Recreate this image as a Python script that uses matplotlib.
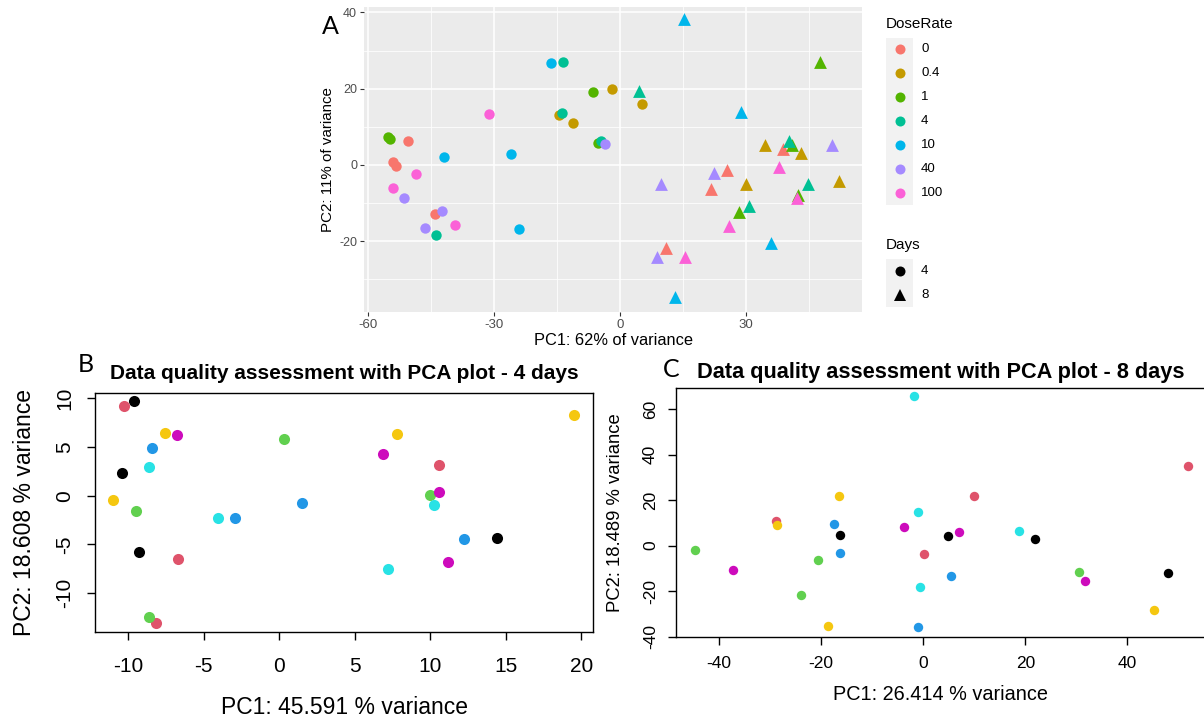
import matplotlib
matplotlib.use('Agg')
import matplotlib.pyplot as plt
from matplotlib.patches import Rectangle

plt.rcParams['font.family'] = ['Liberation Sans', 'DejaVu Sans']
plt.rcParams['axes.unicode_minus'] = False

# ---------------- Panel A data ----------------
dose_levels = ['0', '0.4', '1', '4', '10', '40', '100']
dose_colors = ['#F8766D', '#C49A00', '#53B400', '#00C094', '#00B6EB', '#A58AFF', '#FB61D7']
day_levels = ['4', '8']

a_day4_pc1 = {
    '0':   [-50.5, -54.0, -53.2, -44.0],
    '0.4': [-1.9, -14.4, -11.1, 5.2],
    '1':   [-6.3, -55.3, -54.8, -5.2],
    '4':   [-13.5, -13.7, -4.5, -43.7],
    '10':  [-16.3, -41.8, -26.0, -24.1],
    '40':  [-3.5, -51.5, -42.3, -46.4],
    '100': [-31.2, -48.6, -54.0, -39.2],
}
a_day4_pc2 = {
    '0':   [6.2, 0.7, -0.3, -12.9],
    '0.4': [19.9, 13.0, 11.1, 16.0],
    '1':   [19.1, 7.3, 6.7, 5.7],
    '4':   [27.0, 13.6, 6.3, -18.4],
    '10':  [26.7, 2.2, 2.9, -16.7],
    '40':  [5.4, -8.6, -12.2, -16.5],
    '100': [13.3, -2.4, -6.1, -15.7],
}
a_day8_pc1 = {
    '0':   [38.7, 25.4, 21.7, 10.9],
    '0.4': [34.6, 43.1, 30.0, 52.2],
    '1':   [47.5, 41.0, 42.4, 28.3],
    '4':   [4.6, 40.2, 44.8, 30.7],
    '10':  [15.3, 28.8, 36.0, 13.2],
    '40':  [50.5, 22.3, 9.7, 8.8],
    '100': [37.8, 42.2, 26.0, 15.5],
}
a_day8_pc2 = {
    '0':   [4.2, -1.4, -6.3, -21.9],
    '0.4': [5.3, 3.0, -4.9, -4.2],
    '1':   [27.0, 5.2, -8.0, -12.3],
    '4':   [19.4, 6.2, -4.9, -10.7],
    '10':  [38.2, 13.8, -20.6, -34.7],
    '40':  [5.2, -2.2, -4.9, -24.1],
    '100': [-0.6, -8.6, -15.9, -24.1],
}
a_xticks = [-60, -30, 0, 30]
a_yticks = [-20, 0, 20, 40]

# ---------------- Panels B / C data ----------------
group_names = ['black', 'red', 'green', 'blue', 'cyan', 'magenta', 'gold']
group_colors = {'black': '#000000', 'red': '#DF536B', 'green': '#61D04F', 'blue': '#2297E6',
                'cyan': '#28E2E5', 'magenta': '#CD0BBC', 'gold': '#F5C710'}

b_pc1 = {
    'black':   [-9.62, -10.4, -9.31, 14.44],
    'red':     [-10.28, -6.73, -8.19, 10.6],
    'green':   [-9.49, 0.29, -8.6, 10.0],
    'blue':    [-8.45, 1.5, -2.91, 12.23],
    'cyan':    [-8.63, -4.08, 10.22, 7.2],
    'magenta': [-6.8, 6.85, 10.56, 11.17],
    'gold':    [-7.57, -11.0, 19.5, 7.79],
}
b_pc2 = {
    'black':   [9.71, 2.34, -5.76, -4.32],
    'red':     [9.2, -6.48, -13.1, 3.13],
    'green':   [-1.6, 5.86, -12.5, 0.1],
    'blue':    [4.91, -0.72, -2.26, -4.45],
    'cyan':    [2.92, -2.26, -0.99, -7.57],
    'magenta': [6.28, 4.29, 0.41, -6.79],
    'gold':    [6.42, -0.47, 8.33, 6.38],
}
b_xticks = [-10, -5, 0, 5, 10, 15, 20]
b_yticks = [-10, -5, 0, 5, 10]

c_pc1 = {
    'black':   [-16.3, 4.86, 22.0, 48.0],
    'red':     [-28.8, 51.8, 9.9, 0.16],
    'green':   [-44.6, -20.5, -24.0, 30.5],
    'blue':    [-17.5, -16.3, 5.5, -1.0],
    'cyan':    [-1.87, -1.0, 18.8, -0.7],
    'magenta': [-37.3, -3.8, 7.0, 31.7],
    'gold':    [-28.6, -16.5, -18.6, 45.2],
}
c_pc2 = {
    'black':   [4.8, 4.4, 2.9, -12.0],
    'red':     [10.8, 35.1, 21.6, -3.8],
    'green':   [-1.9, -6.1, -21.8, -11.5],
    'blue':    [9.6, -3.4, -13.2, -35.8],
    'cyan':    [65.7, 14.9, 6.3, -18.0],
    'magenta': [-10.8, 8.2, 5.8, -15.6],
    'gold':    [9.2, 21.6, -35.1, -28.4],
}
c_xticks = [-40, -20, 0, 20, 40]
c_yticks = [-40, -20, 0, 20, 40, 60]

W, H = 1204, 719
fig = plt.figure(figsize=(W / 100, H / 100), dpi=100)


def px_axes(x0, y0, x1, y1):
    return fig.add_axes([x0 / W, 1 - y1 / H, (x1 - x0) / W, (y1 - y0) / H])


# ---------------- Panel A ----------------
axA = px_axes(364, 6.7, 862, 311.7)
axA.set_facecolor('#EBEBEB')
for s in axA.spines.values():
    s.set_visible(False)
axA.set_xlim(-60.9, 57.6)
axA.set_ylim(-38.5, 41.5)
axA.set_xticks(a_xticks)
axA.set_yticks(a_yticks)
axA.set_xticks([-45, -15, 15, 45], minor=True)
axA.set_yticks([-30, -10, 10, 30], minor=True)
axA.grid(True, which='major', color='white', lw=1.1)
axA.grid(True, which='minor', color='white', lw=0.55)
axA.set_axisbelow(True)
axA.tick_params(which='major', length=3, width=0.8, color='#333333', labelcolor='#4D4D4D',
                pad=2)
axA.tick_params(axis='x', labelsize=9.5)
axA.tick_params(axis='y', labelsize=9)
axA.tick_params(which='minor', length=0)
for d, c in zip(dose_levels, dose_colors):
    axA.scatter(a_day4_pc1[d], a_day4_pc2[d], s=56, marker='o', color=c, lw=0, zorder=3)
for d, c in zip(dose_levels, dose_colors):
    axA.scatter(a_day8_pc1[d], a_day8_pc2[d], s=85, marker='^', color=c, lw=0, zorder=3)
axA.set_xlabel('PC1: 62% of variance', fontsize=11.8, labelpad=2)
axA.set_ylabel('PC2: 11% of variance', fontsize=10.9, labelpad=3)

# legend (drawn manually, ggplot style)
axL = fig.add_axes([0, 0, 1, 1], zorder=-1)
axL.set_xlim(0, W)
axL.set_ylim(H, 0)
axL.axis('off')
axL.text(886, 24, 'DoseRate', fontsize=11, va='center', ha='left')
key_y0 = 37.5
key_h = 23.9
for i, (d, c) in enumerate(zip(dose_levels, dose_colors)):
    yc = key_y0 + key_h * (i + 0.5)
    axL.add_patch(Rectangle((886, key_y0 + key_h * i), 27, key_h, color='#F2F2F2', lw=0))
    axL.plot([899.5], [yc], marker='o', ms=7.2, color=c, mew=0)
    axL.text(921, yc, d, fontsize=9.5, va='center', ha='left')
axL.text(886, 245.5, 'Days', fontsize=11, va='center', ha='left')
for i, (d, m) in enumerate(zip(day_levels, ['o', '^'])):
    yc = 259 + 23.9 * (i + 0.5)
    axL.add_patch(Rectangle((886, 259 + 23.9 * i), 27, 23.9, color='#F2F2F2', lw=0))
    axL.plot([899.5], [yc], marker=m, ms=9 if m == '^' else 7.2, color='black', mew=0)
    axL.text(921, yc, d, fontsize=9.5, va='center', ha='left')

fig.text(330 / W, 1 - 26.7 / H, 'A', fontsize=18, ha='center', va='center', family=['Lato', 'DejaVu Sans'])


# ---------------- Base-R style panels ----------------
def base_panel(ax, pc1, pc2, xlim, ylim, xticks, yticks, ms, tick_fs, xpad, ypad, title, title_fs,
               title_pad, xlab, xlab_fs, xlabpad, ylab, ylab_fs, ylabpad):
    for g in group_names:
        ax.scatter(pc1[g], pc2[g], s=ms, color=group_colors[g], lw=0, zorder=3)
    ax.set_xlim(*xlim)
    ax.set_ylim(*ylim)
    ax.set_xticks(xticks)
    ax.set_yticks(yticks)
    for s in ax.spines.values():
        s.set_linewidth(1.0)
    ax.tick_params(length=6, width=1.0, labelsize=tick_fs)
    ax.tick_params(axis='x', pad=xpad)
    ax.tick_params(axis='y', pad=ypad)
    for lab in ax.get_yticklabels():
        lab.set_rotation(90)
        lab.set_va('center')
    ax.set_title(title, fontsize=title_fs, fontweight='bold', pad=title_pad)
    ax.set_xlabel(xlab, fontsize=xlab_fs, labelpad=xlabpad)
    ax.set_ylabel(ylab, fontsize=ylab_fs, labelpad=ylabpad)


axB = px_axes(95, 393.3, 593.3, 632.3)
base_panel(axB, b_pc1, b_pc2, (-12.2, 20.8), (-14.05, 10.53), b_xticks, b_yticks, 64, 15, 12, 9,
           'Data quality assessment with PCA plot - 4 days', 15, 10,
           'PC1: 45.591 % variance', 16.5, 14, 'PC2: 18.608 % variance', 16.5, 14)
fig.text(86 / W, 1 - 365 / H, 'B', fontsize=18, ha='center', va='center', family=['Lato', 'DejaVu Sans'])

axC = px_axes(676, 387.7, 1205, 636.7)
base_panel(axC, c_pc1, c_pc2, (-48.4, 55.2), (-39.8, 69.4), c_xticks, c_yticks, 46, 12.5, 8, 7,
           'Data quality assessment with PCA plot - 8 days', 15.7, 7,
           'PC1: 26.414 % variance', 14.3, 10, 'PC2: 18.489 % variance', 13.3, 14)
fig.text(671 / W, 1 - 369.3 / H, 'C', fontsize=18, ha='center', va='center', family=['Lato', 'DejaVu Sans'])

fig.savefig('out.png', dpi=100)
